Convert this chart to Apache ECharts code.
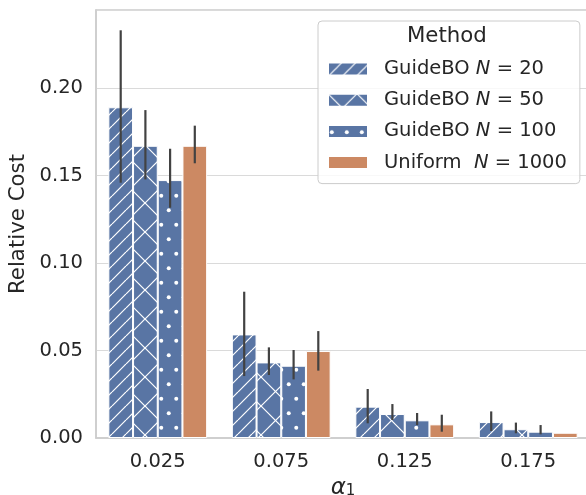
<!DOCTYPE html>
<html>
<head>
<meta charset="utf-8">
<script src="https://cdn.jsdelivr.net/npm/echarts@6/dist/echarts.min.js"></script>
<style>
  html, body { margin: 0; padding: 0; background: #fff; }
  #main { width: 586px; height: 495px; }
</style>
</head>
<body>
<div id="main"></div>
<script>
// data
var categories = ['0.025', '0.075', '0.125', '0.175'];
var methods = ['GuideBO N=20', 'GuideBO N=50', 'GuideBO N=100', 'Uniform N=1000'];
var legendText = ['GuideBO |= 20', 'GuideBO |= 50', 'GuideBO |= 100', 'Uniform  |= 1000'];

var n20 = [0.189, 0.0592, 0.0179, 0.0091];
var n50 = [0.167, 0.0432, 0.0137, 0.0050];
var n100 = [0.1474, 0.0413, 0.0101, 0.0036];
var uniform = [0.167, 0.0497, 0.0078, 0.0030];

// error bar ends (low, high)
var n20Low = [0.1459, 0.0354, 0.0084, 0.0040];
var n20High = [0.2330, 0.0836, 0.0280, 0.0152];
var n50Low = [0.1478, 0.0360, 0.0103, 0.0027];
var n50High = [0.1874, 0.0518, 0.0194, 0.0088];
var n100Low = [0.1316, 0.0335, 0.0074, 0.0021];
var n100High = [0.1653, 0.0503, 0.0143, 0.0074];
var uniLow = [0.1570, 0.0385, 0.0036, 0.0030];
var uniHigh = [0.1785, 0.0611, 0.0133, 0.0030];

var BLUE = '#5975a4';
var ORANGE = '#cc8963';

// hatch tiles (matplotlib-ish)
function diagTile(size, both) {
  var c = document.createElement('canvas');
  c.width = size; c.height = size;
  var ctx = c.getContext('2d');
  ctx.fillStyle = BLUE;
  ctx.fillRect(0, 0, size, size);
  ctx.strokeStyle = '#ffffff';
  ctx.lineWidth = 1.2;
  for (var k = -1; k <= 1; k++) {
    ctx.beginPath();
    ctx.moveTo(k * size, size);
    ctx.lineTo(k * size + size, 0);
    ctx.stroke();
    if (both) {
      ctx.beginPath();
      ctx.moveTo(k * size, 0);
      ctx.lineTo(k * size + size, size);
      ctx.stroke();
    }
  }
  return c;
}

function dotTile(w, h) {
  var c = document.createElement('canvas');
  c.width = w; c.height = h;
  var ctx = c.getContext('2d');
  ctx.fillStyle = BLUE;
  ctx.fillRect(0, 0, w, h);
  ctx.fillStyle = '#ffffff';
  var pts = [[w / 4, h / 4], [w * 3 / 4, h * 3 / 4]];
  pts.forEach(function (p) {
    ctx.beginPath();
    ctx.arc(p[0], p[1], 2, 0, Math.PI * 2);
    ctx.fill();
  });
  return c;
}

var fills = [
  { image: diagTile(14, false), repeat: 'repeat' },
  { image: diagTile(29, true), repeat: 'repeat' },
  { image: dotTile(15, 29), repeat: 'repeat' },
  ORANGE
];

var values = [n20, n50, n100, uniform];
var lows = [n20Low, n50Low, n100Low, uniLow];
var highs = [n20High, n50High, n100High, uniHigh];

var errData = [];
for (var s = 0; s < 4; s++) {
  for (var i = 0; i < categories.length; i++) {
    errData.push([i, lows[s][i], highs[s][i], s]);
  }
}

var chart = echarts.init(document.getElementById('main'), null, { renderer: 'canvas' });

var series = methods.map(function (m, s) {
  return {
    name: m,
    type: 'bar',
    data: values[s],
    barGap: '0%',
    barCategoryGap: '20%',
    itemStyle: {
      color: fills[s],
      borderColor: '#ffffff',
      borderWidth: 1
    },
    emphasis: { disabled: true }
  };
});

series.push({
  type: 'custom',
  data: errData,
  z: 5,
  renderItem: function (params, api) {
    var cat = api.value(0);
    var s = api.value(3);
    var band = api.size([1, 0])[0];
    var off = (s - 1.5) * band * 0.8 / 4;
    var p1 = api.coord([cat, api.value(1)]);
    var p2 = api.coord([cat, api.value(2)]);
    return {
      type: 'line',
      shape: { x1: p1[0] + off, y1: p1[1], x2: p2[0] + off, y2: p2[1] },
      style: { stroke: '#424242', lineWidth: 2.2 }
    };
  },
  silent: true
});

chart.setOption({
  animation: false,
  backgroundColor: '#ffffff',
  textStyle: { fontFamily: 'DejaVu Sans' },
  grid: {
    left: 96, top: 10, right: -4, bottom: 57,
    outerBoundsMode: 'none',
    containLabel: false,
    show: true,
    borderColor: '#cccccc',
    borderWidth: 1.5
  },
  xAxis: {
    type: 'category',
    data: categories,
    axisLine: { show: true, lineStyle: { color: '#cccccc', width: 1.5 } },
    axisTick: { show: false },
    axisLabel: { fontSize: 19.5, color: '#262626', margin: 14 },
    name: '{a|α}{s|1}',
    nameLocation: 'middle',
    nameGap: 30,
    nameTextStyle: {
      rich: {
        a: { fontSize: 23, fontStyle: 'italic', color: '#262626', fontFamily: 'DejaVu Sans' },
        s: { fontSize: 15, color: '#262626', fontFamily: 'DejaVu Sans', padding: [6, 0, 0, 0] }
      }
    }
  },
  yAxis: {
    type: 'value',
    min: 0,
    max: 0.2446,
    interval: 0.05,
    axisLine: { show: true, lineStyle: { color: '#cccccc', width: 1.5 } },
    axisTick: { show: false },
    axisLabel: {
      fontSize: 19.5, color: '#262626', margin: 13,
      showMaxLabel: false,
      formatter: function (v) { return v.toFixed(2); }
    },
    splitLine: { lineStyle: { color: '#dadada', width: 1.2 } },
    name: 'Relative Cost',
    nameLocation: 'middle',
    nameGap: 57,
    nameTextStyle: { fontSize: 21.3, color: '#262626' }
  },
  legend: {
    data: methods,
    orient: 'vertical',
    left: 318,
    top: 21,
    icon: 'rect',
    itemWidth: 40,
    itemHeight: 13,
    itemGap: 11.2,
    padding: [38, 13, 11, 9],
    backgroundColor: 'rgba(255,255,255,0.8)',
    borderColor: '#cccccc',
    borderWidth: 1,
    borderRadius: 4,
    selectedMode: false,
    formatter: function (name) {
      var t = legendText[methods.indexOf(name)].split('|');
      return '{t|' + t[0] + '}{i|N}{t| ' + t[1] + '}';
    },
    textStyle: {
      padding: [0, 0, 0, 11],
      rich: {
        t: { fontSize: 19.5, color: '#262626', fontFamily: 'DejaVu Sans', lineHeight: 20 },
        i: { fontSize: 19.5, color: '#262626', fontFamily: 'DejaVu Sans', fontStyle: 'italic', lineHeight: 20 }
      }
    }
  },
  graphic: [{
    type: 'text',
    left: 407,
    top: 26,
    z: 100,
    style: { text: 'Method', fontSize: 21.3, fill: '#262626', fontFamily: 'DejaVu Sans' }
  }],
  series: series
});
</script>
</body>
</html>
